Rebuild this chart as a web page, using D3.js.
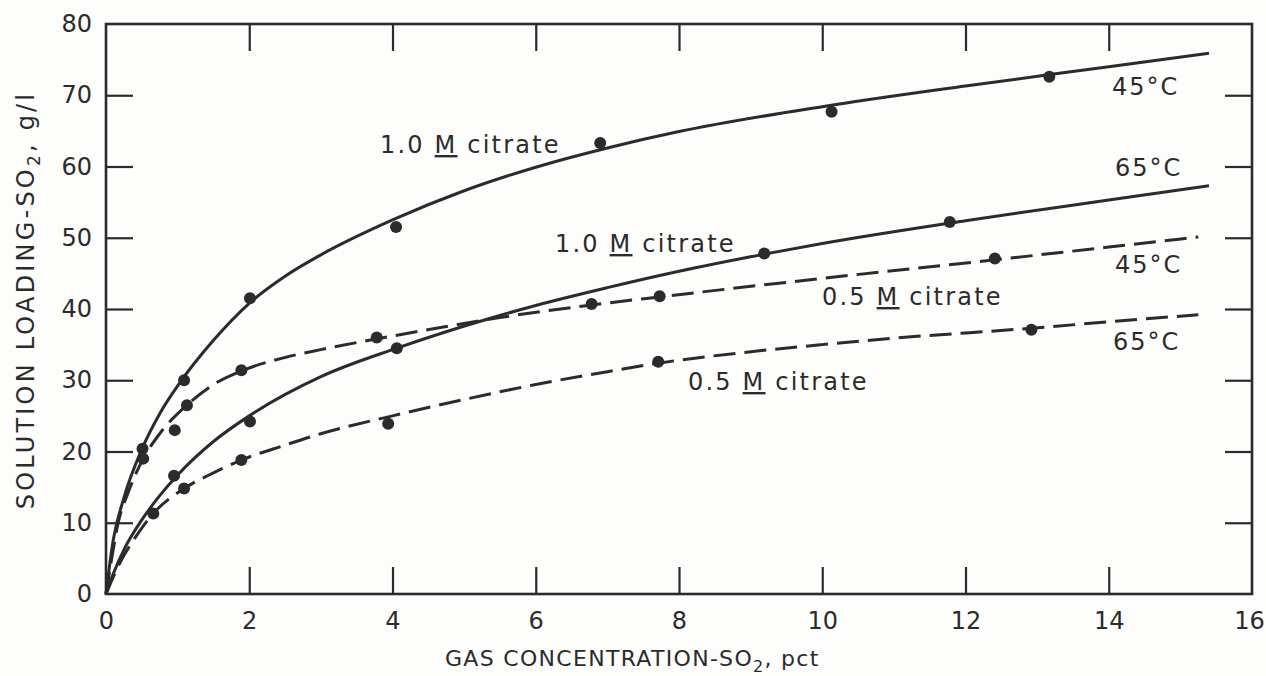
<!DOCTYPE html>
<html>
<head>
<meta charset="utf-8">
<script src="https://cdn.jsdelivr.net/npm/d3@7"></script>
<style>
  body { margin: 0; background: #fdfdfc; }
  svg { display: block; }
  text { font-family: "DejaVu Sans", sans-serif; fill: #2b2b2b; }
</style>
</head>
<body>
<svg id="chart"></svg>
<script>
// tick values
var xTicks = [0, 2, 4, 6, 8, 10, 12, 14, 16];
var yTicks = [0, 10, 20, 30, 40, 50, 60, 70, 80];

// measured points [pct SO2, g/l]
var pts10_45 = [[0.51, 20.4], [1.09, 30.0], [2.01, 41.5], [4.05, 51.5], [6.90, 63.3], [10.13, 67.7], [13.17, 72.6]];
var pts10_65 = [[0.95, 16.6], [2.01, 24.2], [4.06, 34.5], [9.19, 47.8], [11.78, 52.2]];
var pts05_45 = [[0.52, 19.0], [0.96, 23.0], [1.13, 26.5], [1.89, 31.4], [3.78, 36.0], [6.78, 40.7], [7.73, 41.8], [12.41, 47.1]];
var pts05_65 = [[0.66, 11.3], [1.09, 14.8], [1.89, 18.8], [3.94, 23.9], [7.71, 32.6], [12.92, 37.1]];

// fitted curves
var fit10_45 = [[0, 0], [0.1, 7.5], [0.25, 13.5], [0.5, 20.3], [0.75, 25.3], [1, 29.2], [1.5, 35.6], [2, 40.8], [2.5, 44.6], [3, 47.6], [4, 52.5], [5, 56.6], [6, 59.9], [7, 62.6], [8, 64.9], [10, 68.4], [12, 71.3], [14, 74.0], [15.4, 75.9]];
var fit10_65 = [[0, 0], [0.1, 2.8], [0.25, 6.2], [0.5, 10.4], [0.75, 13.8], [1, 16.7], [1.5, 21.4], [2, 25.0], [3, 30.5], [4.06, 34.5], [5.33, 38.6], [6, 40.5], [7, 43.0], [8, 45.3], [9.19, 47.7], [10, 49.2], [12, 52.4], [14, 55.3], [15.4, 57.3]];
var fit05_45 = [[0, 0], [0.08, 5], [0.17, 10], [0.3, 14], [0.52, 19], [0.75, 22.5], [1.13, 26.5], [1.5, 29.4], [1.89, 31.3], [2.5, 33.2], [3, 34.3], [3.83, 35.9], [4.73, 37.5], [5.5, 38.8], [6.73, 40.5], [7.73, 41.7], [10, 44.3], [12.41, 46.9], [14, 48.7], [15.25, 50.1]];
var fit05_65 = [[0, 0], [0.2, 4.5], [0.4, 7.8], [0.66, 11.3], [1.09, 14.8], [1.5, 17], [1.89, 18.8], [2.5, 20.9], [3, 22.5], [4, 25.0], [5, 27.3], [6, 29.4], [7, 31.2], [7.71, 32.4], [9, 34.0], [10, 35.0], [11, 35.9], [12.92, 37.3], [14, 38.2], [15.25, 39.2]];

// annotation text
var concLabels = ["1.0", "1.0", "0.5", "0.5"];
var tempLabels = ["45°C", "65°C", "45°C", "65°C"];

var W = 1266, H = 676;
var margin = { top: 24, right: 14, bottom: 82, left: 106 };
var width = W - margin.left - margin.right,
    height = H - margin.top - margin.bottom;
var ink = "#2b2b2b";

var svg = d3.select("#chart").attr("width", W).attr("height", H);
var g = svg.append("g").attr("transform", "translate(" + margin.left + "," + margin.top + ")");

var x = d3.scaleLinear().domain([0, 16]).range([0, width]);
var y = d3.scaleLinear().domain([0, 80]).range([height, 0]);

var tick = 27;
var inner = function(v) { return v > 0 && v < 16; };
var innerY = function(v) { return v > 0 && v < 80; };

// bottom axis with labels, ticks point inward
var xa = g.append("g").attr("transform", "translate(0," + height + ")")
    .call(d3.axisBottom(x).tickValues(xTicks).tickSize(-tick).tickPadding(18).tickFormat(d3.format("d")));
xa.selectAll(".tick line").filter(function(d) { return !inner(d); }).remove();

var ya = g.append("g")
    .call(d3.axisLeft(y).tickValues(yTicks).tickSize(-tick).tickPadding(14).tickFormat(d3.format("d")));
ya.selectAll(".tick line").filter(function(d) { return !innerY(d); }).remove();

var ta = g.append("g")
    .call(d3.axisTop(x).tickValues(xTicks.filter(inner)).tickSize(-tick).tickFormat(""));
var ra = g.append("g").attr("transform", "translate(" + width + ",0)")
    .call(d3.axisRight(y).tickValues(yTicks.filter(innerY)).tickSize(-tick).tickFormat(""));

[xa, ya, ta, ra].forEach(function(a) {
    a.select(".domain").remove();
    a.selectAll(".tick line").attr("stroke", ink).attr("stroke-width", 2.2);
    a.selectAll(".tick text").attr("font-size", 24).attr("fill", ink)
        .style("font-family", "DejaVu Sans, sans-serif");
});
// keep "16" inside the page
xa.selectAll(".tick text").filter(function(d) { return d == 16; }).attr("dx", -3);

g.append("rect").attr("width", width).attr("height", height)
    .attr("fill", "none").attr("stroke", ink).attr("stroke-width", 2.6);

// curves
var line = d3.line().x(function(d) { return x(d[0]); }).y(function(d) { return y(d[1]); })
    .curve(d3.curveMonotoneX);

var series = [
    { fit: fit10_45, pts: pts10_45, dash: null },
    { fit: fit10_65, pts: pts10_65, dash: null },
    { fit: fit05_45, pts: pts05_45, dash: "22,9" },
    { fit: fit05_65, pts: pts05_65, dash: "22,9" }
];

series.forEach(function(s) {
    g.append("path").datum(s.fit)
        .attr("d", line)
        .attr("fill", "none")
        .attr("stroke", ink)
        .attr("stroke-width", 3)
        .attr("stroke-dasharray", s.dash);
    g.selectAll(null).data(s.pts).enter().append("circle")
        .attr("cx", function(d) { return x(d[0]); })
        .attr("cy", function(d) { return y(d[1]); })
        .attr("r", 6)
        .attr("fill", ink);
});

// labels (page coords)
var concPos = [[380, 153], [555, 252], [822, 305], [688, 390]];
var tempPos = [[1112, 95], [1115, 176], [1115, 273], [1113, 350]];

concLabels.forEach(function(c, i) {
    var t = svg.append("text").attr("x", concPos[i][0]).attr("y", concPos[i][1])
        .attr("font-size", 24).attr("letter-spacing", 2.2);
    t.append("tspan").text(c + " ");
    t.append("tspan").text("M").style("text-decoration", "underline");
    t.append("tspan").text(" citrate");
});

tempLabels.forEach(function(c, i) {
    svg.append("text").attr("x", tempPos[i][0]).attr("y", tempPos[i][1])
        .attr("font-size", 24).attr("letter-spacing", 2)
        .text(c);
});

// axis titles
var xt = svg.append("text").attr("x", 445).attr("y", 666)
    .attr("font-size", 22).attr("letter-spacing", 1.3);
xt.append("tspan").text("GAS CONCENTRATION-SO");
xt.append("tspan").attr("font-size", 16).attr("dy", 6).text("2");
xt.append("tspan").attr("dy", -6).text(", pct");

var yt = svg.append("text").attr("transform", "translate(34,300) rotate(-90)")
    .attr("text-anchor", "middle")
    .attr("font-size", 24).attr("letter-spacing", 3.2);
yt.append("tspan").text("SOLUTION LOADING-SO");
yt.append("tspan").attr("font-size", 17).attr("dy", 6).text("2");
yt.append("tspan").attr("dy", -6).text(",  g/l");
</script>
</body>
</html>
